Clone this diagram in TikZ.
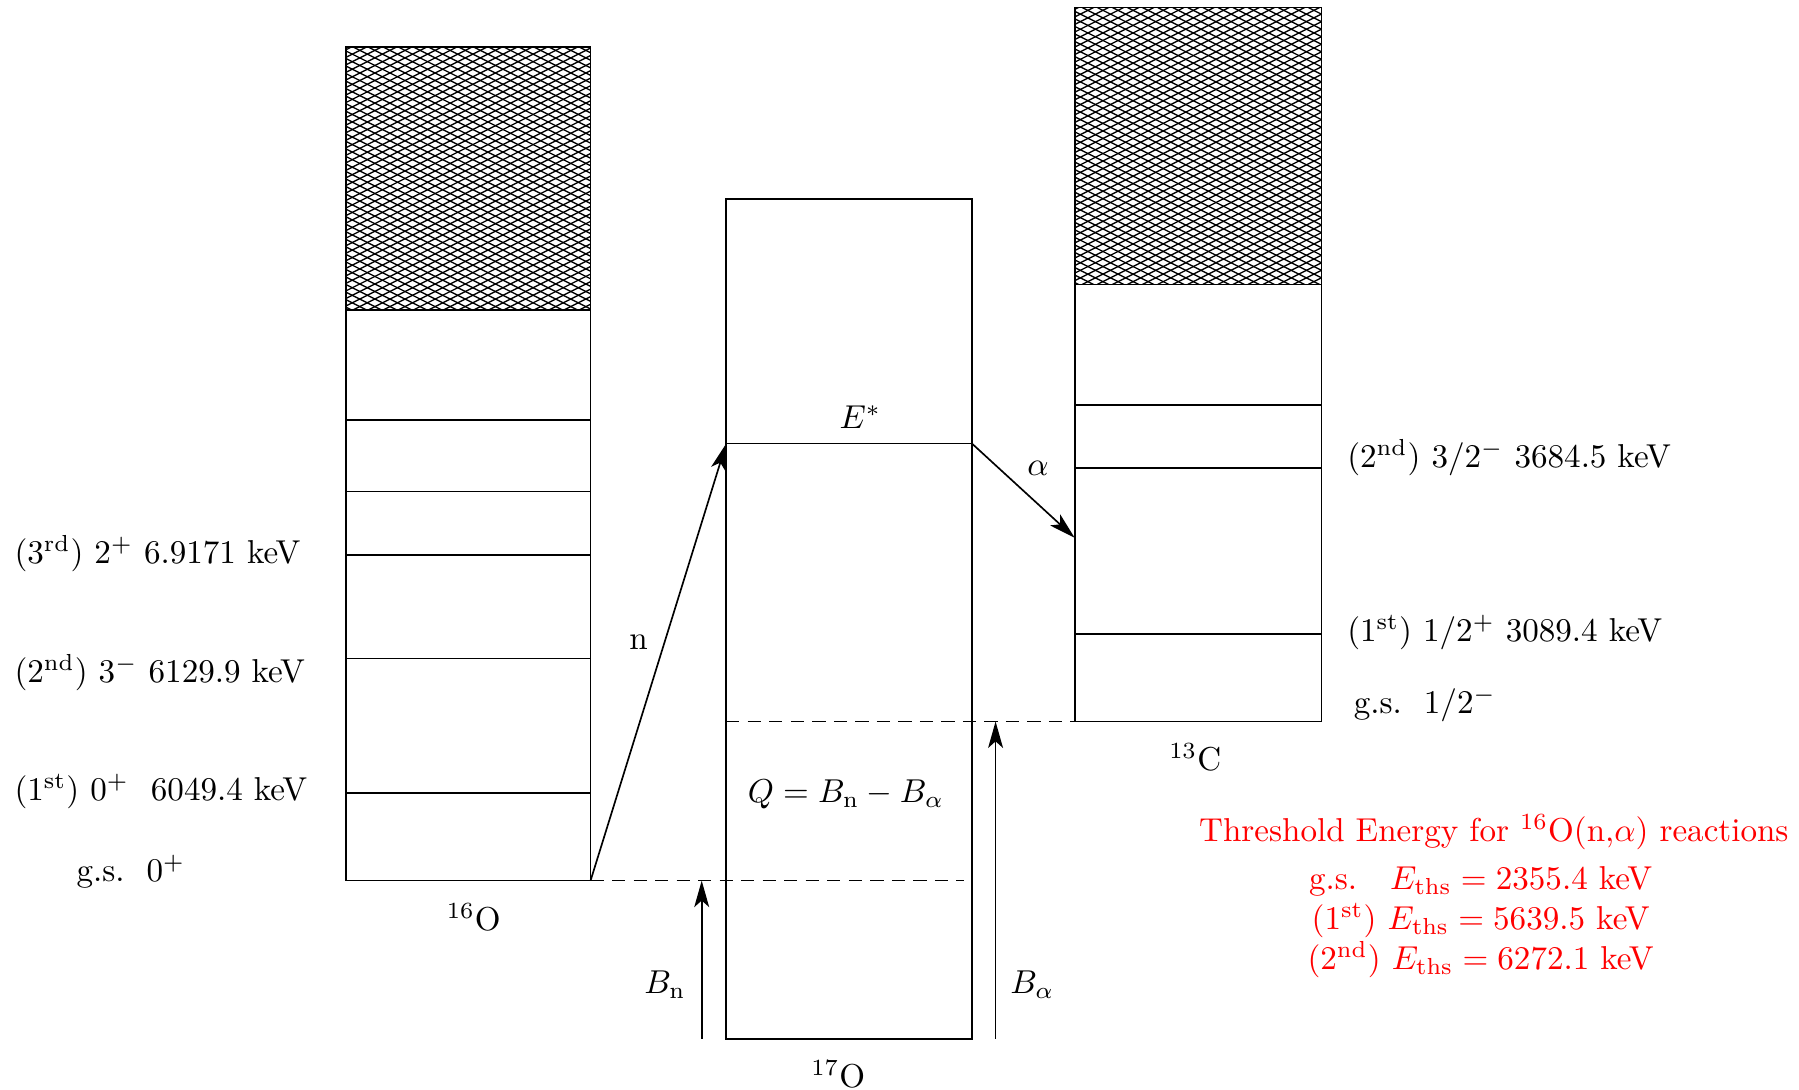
\documentclass[tikz,border=0pt]{standalone}
\usepackage{amsmath,amssymb}
\usepackage{xcolor}
\usepackage{tikz}
\usetikzlibrary{arrows.meta}
\tikzset{
  box/.style={draw,line width=0.5pt},
  lvl/.style={line width=0.5pt},
  gap/.style={dash pattern=on 4pt off 2.5pt,line width=0.5pt},
  arr/.style={-{Stealth[length=8pt,width=4.5pt,inset=2pt]},line width=0.5pt},
  mesh/.style={line width=0.4pt},
  thr/.style={text=red,align=center},
}

\begin{document}
\begin{tikzpicture}
\useasboundingbox (0,0) rectangle (19.1,11.57);
% 16O levels
\begin{scope}
\clip (3.67,8.28) rectangle (6.27,11.07);
\foreach \k in {0,...,55} {
  \draw[mesh] ({-2.33+\k*0.16},8.28) -- ++(6,3);
  \draw[mesh] ({-2.33+\k*0.16},11.07) -- ++(6,-3);
}
\end{scope}
\draw[box] (3.67,2.22) rectangle (6.27,11.07);
\foreach \y in {3.15,4.58,5.68,6.35,7.11,8.28} \draw[lvl] (3.67,\y) -- (6.27,\y);
% 17O compound
\draw[box] (7.71,0.54) rectangle (10.32,9.46);
\draw[lvl] (7.71,6.86) -- (10.32,6.86);
% 13C levels
\begin{scope}
\clip (11.41,8.55) rectangle (14.03,11.49);
\foreach \k in {0,...,55} {
  \draw[mesh] ({5.41+\k*0.16},8.55) -- ++(6,3);
  \draw[mesh] ({5.41+\k*0.16},11.49) -- ++(6,-3);
}
\end{scope}
\draw[box] (11.41,3.91) rectangle (14.03,11.49);
\foreach \y in {4.84,6.60,7.27,8.55} \draw[lvl] (11.41,\y) -- (14.03,\y);

\coordinate (o16gs) at (6.27,2.22);
\coordinate (o16gsr) at (10.23,2.22);
\coordinate (o17exl) at (7.71,6.86);
\coordinate (o17exr) at (10.32,6.86);
\coordinate (c13in) at (11.41,5.86);
\coordinate (c13gsl) at (7.71,3.91);
\coordinate (c13gs) at (11.41,3.91);
\coordinate (bnlo) at (7.45,0.54);
\coordinate (bnhi) at (7.45,2.22);
\coordinate (balo) at (10.57,0.54);
\coordinate (bahi) at (10.57,3.91);

\draw[gap] (o16gs) -- (o16gsr);
\draw[gap] (c13gsl) -- (c13gs);
\draw[arr] (o16gs) -- (o17exl);
\draw[arr] (o17exr) -- (c13in);
\draw[arr] (bnlo) -- (bnhi);
\draw[arr] (balo) -- (bahi);

\node (lbln) at (6.78,4.75) {n};
\node (lbla) at (11.02,6.60) {$\alpha$};
\node (lble) at (9.135,7.14) {$E^*$};
\node (lblq) at (8.98,3.14) {$Q=B_{\mathrm{n}}-B_\alpha$};
\node (lblbn) at (7.06,1.12) {$B_{\mathrm{n}}$};
\node (lblba) at (10.96,1.12) {$B_\alpha$};
\node (nm16) at (5.03,1.83) {$^{16}$O};
\node (nm17) at (8.90,0.16) {$^{17}$O};
\node (nm13) at (12.69,3.53) {$^{13}$C};

\node[anchor=west] (o16l3) at (0.03,5.69) {(3$^{\mathrm{rd}}$) $2^+$ 6.9171 keV};
\node[anchor=west] (o16l2) at (0.03,4.43) {(2$^{\mathrm{nd}}$) $3^-$ 6129.9 keV};
\node[anchor=west] (o16l1) at (0.03,3.17) {(1$^{\mathrm{st}}$) $0^+$\ \ 6049.4 keV};
\node (o16l0) at (1.39,2.31) {g.s.\ \ $0^+$};

\node[anchor=west] (c13l2) at (14.18,6.71) {(2$^{\mathrm{nd}}$) $3/2^-$ 3684.5 keV};
\node[anchor=west] (c13l1) at (14.18,4.85) {(1$^{\mathrm{st}}$) $1/2^+$ 3089.4 keV};
\node[anchor=west] (c13l0) at (14.25,4.09) {g.s.\ \ $1/2^-$};

\node[thr] (ttl) at (15.86,2.74) {Threshold Energy for $^{16}$O(n,$\alpha$) reactions};
\node[thr] (ths) at (15.72,1.78) {g.s.\ \ \ $E_{\mathrm{ths}}=2355.4$ keV\\
(1$^{\mathrm{st}}$) $E_{\mathrm{ths}}=5639.5$ keV\\
(2$^{\mathrm{nd}}$) $E_{\mathrm{ths}}=6272.1$ keV};
\end{tikzpicture}
\end{document}
